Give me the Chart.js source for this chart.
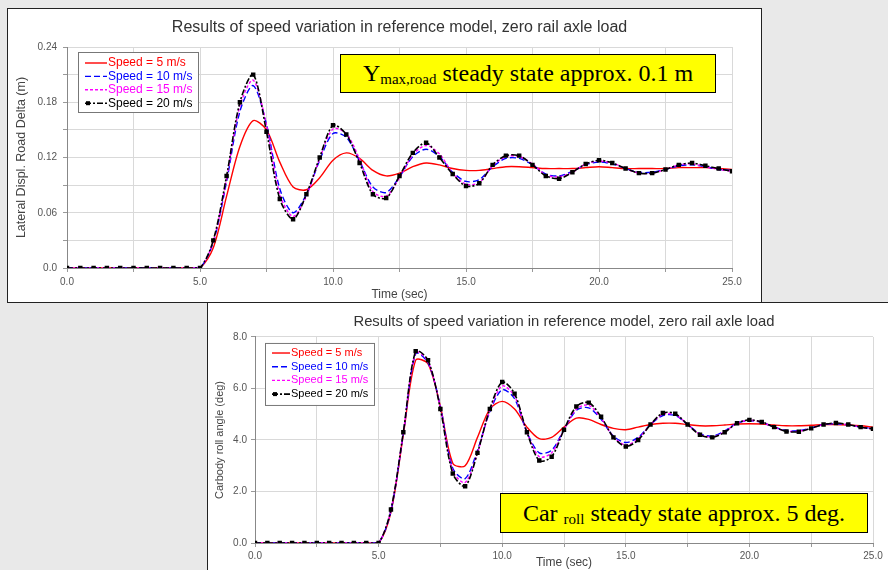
<!DOCTYPE html>
<html>
<head>
<meta charset="utf-8">
<script src="https://cdn.jsdelivr.net/npm/chart.js@4.4.0/dist/chart.umd.min.js"></script>
<style>
body { margin:0; width:888px; height:570px; background:#e9e9e9; overflow:hidden; position:relative; font-family:"Liberation Sans", Arial, sans-serif; }
.box { position:absolute; background:#fff; }
#topBox { left:7px; top:8px; width:753px; height:293px; border:1px solid #222; }
#bottomBox { left:207px; top:302px; width:680px; height:267px; border-top:1px solid #222; border-left:1px solid #222; }
canvas { display:block; }
.note { position:absolute; background:#ffff00; border:1px solid #000; box-sizing:border-box; font-family:"Liberation Serif", "Times New Roman", serif; font-size:24px; color:#000; text-align:center; white-space:nowrap; }
.note sub { font-size:15px; vertical-align:baseline; position:relative; top:3px; }
#note1 { left:340px; top:54px; width:376px; height:39px; line-height:37px; }
#note2 { left:500px; top:493px; width:368px; height:40px; line-height:38px; }
</style>
</head>
<body>
<div class="box" id="topBox"><canvas id="dispChart" width="753" height="293"></canvas></div>
<div class="box" id="bottomBox"><canvas id="rollChart" width="680" height="267"></canvas></div>
<div class="note" id="note1">Y<sub>max,road</sub> steady state approx. 0.1 m</div>
<div class="note" id="note2">Car <sub>roll</sub> steady state approx. 5 deg.</div>

<script>
// time axis (sec)
var times = [0, 0.5, 1, 1.5, 2, 2.5, 3, 3.5, 4, 4.5, 5, 5.5, 6, 6.5, 7, 7.5, 8, 8.5, 9, 9.5,
             10, 10.5, 11, 11.5, 12, 12.5, 13, 13.5, 14, 14.5, 15, 15.5, 16, 16.5, 17, 17.5, 18, 18.5, 19, 19.5,
             20, 20.5, 21, 21.5, 22, 22.5, 23, 23.5, 24, 24.5, 25];

var speedLabels = ["Speed = 5 m/s", "Speed = 10 m/s", "Speed = 15 m/s", "Speed = 20 m/s"];

var xTicks = [0, 5, 10, 15, 20, 25];
var dispTicks = [0, 0.06, 0.12, 0.18, 0.24];
var rollTicks = [0, 2, 4, 6, 8];

// lateral displacement (m)
var disp5 = [0, 0, 0, 0, 0, 0, 0, 0, 0, 0, 0,
  0.022, 0.078, 0.132, 0.160, 0.150, 0.115, 0.088, 0.085, 0.098, 0.117,
  0.125, 0.119, 0.106, 0.100, 0.103, 0.110, 0.114, 0.112, 0.108, 0.106,
  0.106, 0.108, 0.110, 0.110, 0.109, 0.108, 0.108, 0.108, 0.109, 0.110,
  0.109, 0.108, 0.108, 0.108, 0.108, 0.109, 0.109, 0.109, 0.108, 0.107];
var disp10 = [0, 0, 0, 0, 0, 0, 0, 0, 0, 0, 0,
  0.028, 0.094, 0.170, 0.198, 0.156, 0.086, 0.060, 0.080, 0.117, 0.146,
  0.142, 0.116, 0.088, 0.082, 0.099, 0.121, 0.129, 0.121, 0.104, 0.094,
  0.096, 0.110, 0.119, 0.119, 0.112, 0.102, 0.100, 0.105, 0.112, 0.115,
  0.113, 0.108, 0.104, 0.104, 0.107, 0.111, 0.112, 0.110, 0.107, 0.106];
var disp15 = [0, 0, 0, 0, 0, 0, 0, 0, 0, 0, 0,
  0.029, 0.097, 0.176, 0.204, 0.155, 0.080, 0.056, 0.078, 0.119, 0.151,
  0.146, 0.118, 0.083, 0.078, 0.098, 0.123, 0.133, 0.124, 0.103, 0.091,
  0.093, 0.111, 0.121, 0.121, 0.113, 0.101, 0.099, 0.104, 0.113, 0.116,
  0.114, 0.108, 0.103, 0.103, 0.107, 0.112, 0.113, 0.110, 0.107, 0.105];
var disp20 = [0, 0, 0, 0, 0, 0, 0, 0, 0, 0, 0,
  0.030, 0.100, 0.180, 0.210, 0.148, 0.075, 0.053, 0.080, 0.120, 0.155,
  0.145, 0.114, 0.080, 0.076, 0.100, 0.125, 0.136, 0.120, 0.102, 0.089,
  0.092, 0.112, 0.122, 0.122, 0.112, 0.100, 0.097, 0.104, 0.113, 0.117,
  0.114, 0.108, 0.103, 0.103, 0.107, 0.112, 0.114, 0.111, 0.108, 0.105];

// carbody roll angle (deg)
var roll5 = [0, 0, 0, 0, 0, 0, 0, 0, 0, 0, 0,
  1.2, 4.2, 7.1, 6.95, 5.3, 3.1, 3.0, 4.1, 5.2, 5.5,
  5.2, 4.5, 4.05, 4.1, 4.5, 4.85, 4.8, 4.6, 4.45, 4.4,
  4.5, 4.6, 4.65, 4.65, 4.6, 4.55, 4.55, 4.58, 4.62, 4.63,
  4.62, 4.58, 4.55, 4.55, 4.57, 4.6, 4.6, 4.58, 4.55, 4.5];
var roll10 = [0, 0, 0, 0, 0, 0, 0, 0, 0, 0, 0,
  1.25, 4.25, 7.35, 7.0, 5.3, 2.9, 2.5, 3.6, 5.1, 5.95,
  5.6, 4.3, 3.5, 3.6, 4.4, 5.15, 5.25, 4.8, 4.15, 3.9,
  4.1, 4.6, 4.95, 4.95, 4.6, 4.25, 4.15, 4.35, 4.65, 4.75,
  4.68, 4.5, 4.37, 4.36, 4.47, 4.6, 4.63, 4.58, 4.5, 4.44];
var roll15 = [0, 0, 0, 0, 0, 0, 0, 0, 0, 0, 0,
  1.28, 4.28, 7.4, 7.05, 5.25, 2.8, 2.35, 3.5, 5.15, 6.1,
  5.7, 4.3, 3.35, 3.5, 4.4, 5.2, 5.35, 4.85, 4.12, 3.8,
  4.05, 4.6, 5.0, 4.98, 4.6, 4.22, 4.12, 4.32, 4.65, 4.77,
  4.69, 4.5, 4.35, 4.34, 4.46, 4.6, 4.65, 4.59, 4.5, 4.43];
var roll20 = [0, 0, 0, 0, 0, 0, 0, 0, 0, 0, 0,
  1.3, 4.3, 7.45, 7.1, 5.2, 2.7, 2.2, 3.5, 5.2, 6.25,
  5.8, 4.3, 3.2, 3.35, 4.4, 5.3, 5.45, 4.9, 4.1, 3.75,
  4.0, 4.6, 5.05, 5.02, 4.6, 4.2, 4.1, 4.3, 4.65, 4.78,
  4.7, 4.5, 4.33, 4.32, 4.45, 4.6, 4.66, 4.6, 4.5, 4.43];

var lineColors = ["#ff0000", "#0000ff", "#ff00ff", "#000000"];
var lineDashes = [[], [6, 3], [3, 2], [6, 2, 2, 2]];
var FONT = "'Liberation Sans', Arial, sans-serif";

function buildSets(series) {
  return series.map(function (vals, i) {
    return {
      label: speedLabels[i],
      data: times.map(function (t, k) { return { x: t, y: vals[k] }; }),
      borderColor: lineColors[i],
      backgroundColor: lineColors[i],
      borderWidth: i === 3 ? 1.6 : 1.4,
      borderDash: lineDashes[i],
      pointRadius: i === 3 ? 2 : 0,
      pointStyle: "rect",
      tension: 0.3,
      order: 4 - i
    };
  });
}

function isTick(list, v) {
  return list.some(function (t) { return Math.abs(t - v) < 1e-6; });
}

// legend box drawn inside the plot area, top-left
var insideLegend = {
  id: "insideLegend",
  afterDatasetsDraw: function (chart, args, opts) {
    var ctx = chart.ctx, a = chart.chartArea;
    var x0 = a.left + opts.dx, y0 = a.top + opts.dy;
    ctx.save();
    ctx.fillStyle = "#fff";
    ctx.fillRect(x0, y0, opts.w, opts.h);
    ctx.strokeStyle = "#777";
    ctx.lineWidth = 1;
    ctx.strokeRect(x0 + 0.5, y0 + 0.5, opts.w, opts.h);
    ctx.font = opts.fontSize + "px " + FONT;
    ctx.textBaseline = "middle";
    chart.data.datasets.forEach(function (ds, i) {
      var y = y0 + opts.pad + opts.row * (i + 0.5);
      ctx.strokeStyle = ds.borderColor;
      ctx.lineWidth = ds.borderWidth;
      ctx.setLineDash(ds.borderDash);
      ctx.beginPath();
      ctx.moveTo(x0 + 7, y);
      ctx.lineTo(x0 + 7 + opts.line, y);
      ctx.stroke();
      ctx.setLineDash([]);
      ctx.fillStyle = ds.borderColor;
      if (ds.pointRadius) {
        ctx.fillRect(x0 + 8, y - 2, 4, 4);
      }
      ctx.fillText(ds.label, x0 + 8 + opts.line, y);
    });
    ctx.restore();
  }
};

function makeOptions(o) {
  return {
    responsive: false,
    animation: false,
    layout: { padding: { top: 0, right: o.right, bottom: 0, left: 0 } },
    plugins: {
      legend: { display: false },
      tooltip: { enabled: false },
      title: {
        display: true,
        fullSize: false,
        text: "Results of speed variation in reference model, zero rail axle load",
        color: "#333",
        font: { family: FONT, size: o.titleSize, weight: "normal" },
        padding: { top: o.titleTop, bottom: o.titleBottom }
      },
      insideLegend: o.legend
    },
    scales: {
      x: {
        type: "linear",
        min: 0,
        max: 25,
        ticks: {
          stepSize: 2.5,
          autoSkip: false,
          maxRotation: 0,
          padding: o.xPad,
          color: "#555",
          font: { family: FONT, size: 10 },
          callback: function (v) { return isTick(xTicks, v) ? v.toFixed(1) : ""; }
        },
        grid: { color: "#d9d9d9", tickLength: 4, tickColor: "#999" },
        border: { color: "#888" },
        title: {
          display: true,
          text: "Time (sec)",
          color: "#444",
          font: { family: FONT, size: 12 },
          padding: { top: 0, bottom: 0 }
        },
        afterFit: function (s) { s.height = o.xH; }
      },
      y: {
        min: o.yMin,
        max: o.yMax,
        ticks: {
          stepSize: o.yStep,
          autoSkip: false,
          padding: o.yPad,
          color: "#555",
          font: { family: FONT, size: 10 },
          callback: o.yLabel
        },
        grid: { color: "#d9d9d9", tickLength: 4, tickColor: "#999" },
        border: { color: "#888" },
        title: {
          display: true,
          text: o.yTitle,
          color: "#444",
          font: { family: FONT, size: o.yTitleSize },
          padding: { top: o.yTitlePad, bottom: 0 }
        },
        afterFit: function (s) { s.width = o.yW; }
      }
    }
  };
}

var dispChart = new Chart(document.getElementById("dispChart"), {
  type: "line",
  data: { datasets: buildSets([disp5, disp10, disp15, disp20]) },
  options: makeOptions({
    right: 29, titleSize: 16, titleTop: 9.4, titleBottom: 9.4,
    xPad: 4, xH: 34, yW: 59, yPad: 6, yTitleSize: 12.5, yTitlePad: 6.5,
    yMin: 0, yMax: 0.24, yStep: 0.03,
    yTitle: "Lateral Displ. Road Delta (m)",
    yLabel: function (v) {
      if (!isTick(dispTicks, v)) return "";
      return Math.abs(v) < 1e-9 ? "0.0" : v.toFixed(2);
    },
    legend: { dx: 11, dy: 5, w: 120, h: 60, pad: 4.3, row: 13.4, line: 22, fontSize: 12 }
  }),
  plugins: [insideLegend]
});

var rollChart = new Chart(document.getElementById("rollChart"), {
  type: "line",
  data: { datasets: buildSets([roll5, roll10, roll15, roll20]) },
  options: makeOptions({
    right: 15, titleSize: 14.8, titleTop: 10.1, titleBottom: 6.1,
    xPad: 3, xH: 27, yW: 47, yPad: 4, yTitleSize: 11, yTitlePad: 5.4,
    yMin: 0, yMax: 8, yStep: 2,
    yTitle: "Carbody roll angle (deg)",
    yLabel: function (v) { return isTick(rollTicks, v) ? v.toFixed(1) : ""; },
    legend: { dx: 10, dy: 6, w: 109, h: 62, pad: 3.2, row: 13.7, line: 18, fontSize: 11 }
  }),
  plugins: [insideLegend]
});
</script>
</body>
</html>
